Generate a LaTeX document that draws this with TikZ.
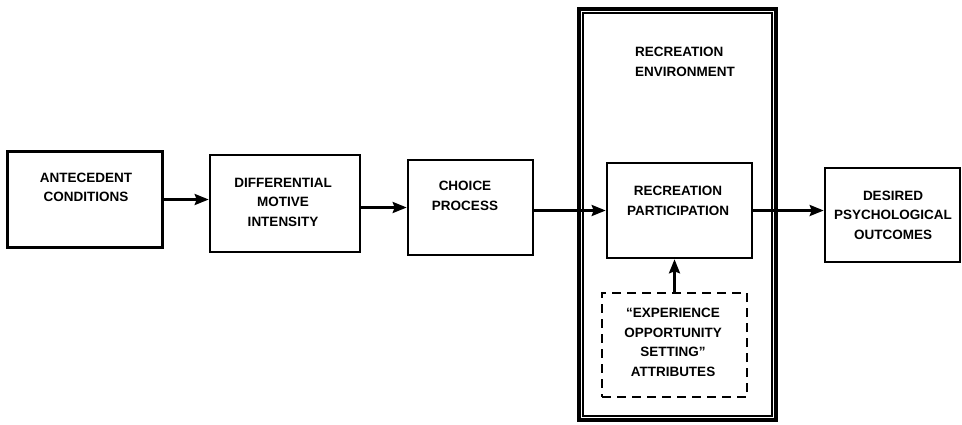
\documentclass[tikz,border=0pt]{standalone}
\usepackage{fontspec}
\setmainfont{Liberation Sans}
\usepackage{tikz}
\usetikzlibrary{arrows.meta,positioning}

\begin{document}
\begin{tikzpicture}[x=1pt,y=-1pt,
		box/.style={draw, line width=2.6pt, inner sep=0pt},
		lbl/.style={align=center, inner sep=0pt, font=\bfseries\fontsize{13.5}{19.5}\selectfont},
		arr/.style={-{Stealth[length=14pt,width=11pt,inset=2pt]}, line width=2.6pt}]
			\useasboundingbox (0,0) rectangle (962,424);
			\node[box, minimum width=155pt, minimum height=96pt] (ante) at (85,199.5) {};
			\node[box, minimum width=150pt, minimum height=97pt] (diff) at (285,203.5) {};
			\node[box, minimum width=125pt, minimum height=95pt] (choice) at (470.5,207.5) {};
			\node[box, minimum width=197pt, minimum height=411pt, line width=3.2pt] (env) at (677.5,214.5) {};
			\node[draw, line width=1.4pt, inner sep=0pt, minimum width=189pt, minimum height=403pt] (envin) at (677.5,214.5) {};
			\node[box, minimum width=145pt, minimum height=95pt] (part) at (679.5,210.5) {};
			\node[box, dash pattern=on 9pt off 6pt, minimum width=145pt, minimum height=104pt] (attr) at (674.5,345) {};
			\node[box, minimum width=135pt, minimum height=94pt] (desired) at (892.5,215) {};
			\node[lbl] (anteT) at (86,187.5) {ANTECEDENT\\CONDITIONS};
			\node[lbl] (diffT) at (283,202) {DIFFERENTIAL\\MOTIVE\\INTENSITY};
			\node[lbl] (choiceT) at (465,196) {CHOICE\\PROCESS};
			\node[lbl, align=left, anchor=west] (envT) at (635,62) {RECREATION\\ENVIRONMENT};
			\node[lbl] (partT) at (678,201) {RECREATION\\PARTICIPATION};
			\node[lbl] (attrT) at (673,342.5) {``EXPERIENCE\\OPPORTUNITY\\SETTING''\\ATTRIBUTES};
			\node[lbl] (desiredT) at (893,215) {DESIRED\\PSYCHOLOGICAL\\OUTCOMES};
			\draw[arr] (ante.east) -- (ante.east -| diff.west);
			\draw[arr] (choice.west -| diff.east) -- (choice.west);
			\draw[arr] (part.west -| choice.east) -- (part.west);
			\draw[arr] (part.east) -- (part.east -| desired.west);
			\draw[arr] (attr.north) -- (attr.north |- part.south);
\end{tikzpicture}
\end{document}
